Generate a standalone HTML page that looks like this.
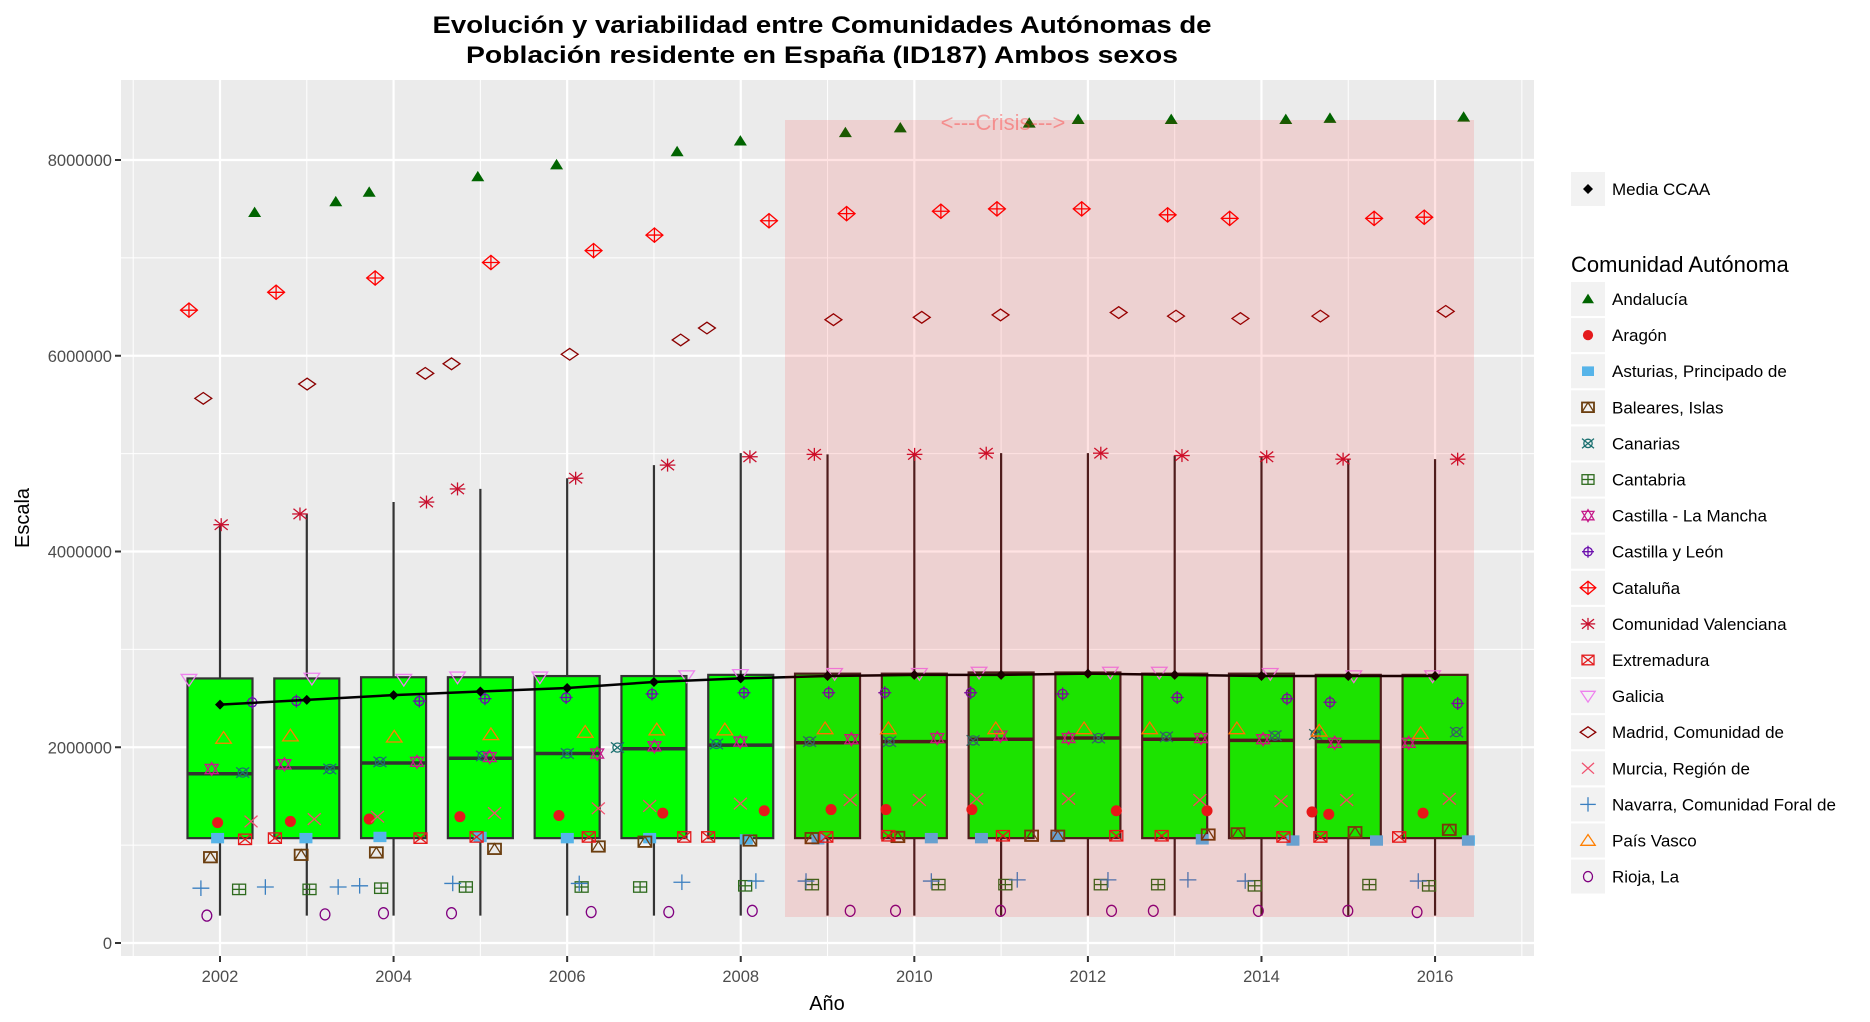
<!DOCTYPE html>
<html><head><meta charset="utf-8"><style>
html,body{margin:0;padding:0;background:#fff;}
svg{display:block;font-family:"Liberation Sans",Arial,sans-serif;}
</style></head><body>
<svg id="s" width="1870" height="1022" viewBox="0 0 1870 1022" xmlns="http://www.w3.org/2000/svg">
<rect x="0" y="0" width="1870" height="1022" fill="#fff"/>
<text x="822" y="33" font-size="24" font-weight="bold" text-anchor="middle" textLength="779" lengthAdjust="spacingAndGlyphs">Evolución y variabilidad entre Comunidades Autónomas de</text>
<text x="822" y="63" font-size="24" font-weight="bold" text-anchor="middle" textLength="712" lengthAdjust="spacingAndGlyphs">Población residente en España (ID187) Ambos sexos</text>
<rect x="121" y="80" width="1413" height="876" fill="#ebebeb"/>
<g id="grid"></g>
<g id="boxes"></g>
<g id="pts"></g>
<g id="mean"></g>
<rect x="785" y="120" width="689" height="797" fill="rgba(255,0,0,0.11)"/>
<text x="1003" y="130" font-size="22" fill="rgba(255,40,40,0.4)" text-anchor="middle">&lt;---Crisis---&gt;</text>
<g id="axes" font-size="16.5" fill="#4d4d4d"></g>
<text x="827" y="1010" font-size="20" text-anchor="middle">Año</text>
<text transform="translate(29,518) rotate(-90)" font-size="20" text-anchor="middle">Escala</text>
<g id="leg"></g>
</svg>
<script>
const NS="http://www.w3.org/2000/svg";
function el(p,t,a,txt){const e=document.createElementNS(NS,t);for(const k in a)e.setAttribute(k,a[k]);if(txt!==undefined)e.textContent=txt;document.getElementById(p).appendChild(e);return e;}
const X=s=>220+(s-184)*1.1935, Y=s=>160+(s-135)*1.1918;
const xc=i=>220+86.79*i, yv=m=>943-m*97.875;
for(let m=1;m<=9;m+=2){const y=yv(m);if(y>80)el('grid','line',{x1:121,x2:1534,y1:y,y2:y,stroke:'#fff','stroke-width':1});}
for(let m=0;m<=8;m+=2){const y=yv(m);el('grid','line',{x1:121,x2:1534,y1:y,y2:y,stroke:'#fff','stroke-width':2.2});}
for(let yr=2001;yr<=2017;yr+=2){const x=220+(yr-2002)*86.79;el('grid','line',{x1:x,x2:x,y1:80,y2:956,stroke:'#fff','stroke-width':1});}
for(let yr=2002;yr<=2016;yr+=2){const x=220+(yr-2002)*86.79;el('grid','line',{x1:x,x2:x,y1:80,y2:956,stroke:'#fff','stroke-width':2.2});
 el('axes','line',{x1:x,x2:x,y1:956,y2:962,stroke:'#333','stroke-width':2});el('axes','text',{x:x,y:982,'text-anchor':'middle'},String(yr));}
for(let m=0;m<=8;m+=2){const y=yv(m);el('axes','line',{x1:115,x2:121,y1:y,y2:y,stroke:'#333','stroke-width':2});el('axes','text',{x:112,y:y+6,'text-anchor':'end'},m==0?'0':m+'000000');}
const wt=[441,432,422,411,402,391,381,382,382,381,381,383,384,386,386];
const med=[650,645,641,637,633,629,626,624,623,621,620,621,622,623,624];
const mean=[592,588,584,581,578,573,570,568,567,567,566,567,568,568,568];
const q3=[570,570,569,569,568,568,567,566,566,565,565,566,566,567,567];
for(let i=0;i<15;i++){const x=xc(i),cr=i>=7,st=cr?'#3a2020':'#333';
 el('boxes','line',{x1:x,x2:x,y1:Y(wt[i]),y2:Y(769),stroke:st,'stroke-width':2.2});
 el('boxes','rect',{x:x-32.5,y:Y(q3[i]),width:65,height:Y(704)-Y(q3[i]),fill:'#00ff00',stroke:st,'stroke-width':2.2});
 el('boxes','line',{x1:x-32.5,x2:x+32.5,y1:Y(med[i]),y2:Y(med[i]),stroke:st,'stroke-width':3.5});}
let d='';for(let i=0;i<15;i++){d+=(i?'L':'M')+xc(i)+','+Y(mean[i]);}
el('mean','path',{d:d,fill:'none',stroke:'#000','stroke-width':2.5});
for(let i=0;i<15;i++)el('mean','path',{d:`M${xc(i)-5},${Y(mean[i])}L${xc(i)},${Y(mean[i])-5}L${xc(i)+5},${Y(mean[i])}L${xc(i)},${Y(mean[i])+5}Z`,fill:'#000'});
function mk(g,t,x,y,c,r){r=r||6.5;const sw=1.3;
 const L=(a,b,c2,d2)=>el(g,'line',{x1:a,y1:b,x2:c2,y2:d2,stroke:c,'stroke-width':sw});
 switch(t){
 case 'tri':el(g,'path',{d:`M${x-r},${y+r*0.7}L${x+r},${y+r*0.7}L${x},${y-r*0.9}Z`,fill:c});break;
 case 'dot':el(g,'circle',{cx:x,cy:y,r:r*0.85,fill:c});break;
 case 'sq':el(g,'rect',{x:x-r,y:y-r*0.8,width:2*r,height:1.6*r,fill:c});break;
 case 'sqtri':el(g,'rect',{x:x-r,y:y-r*0.8,width:2*r,height:1.6*r,fill:'none',stroke:c,'stroke-width':sw+0.5});el(g,'path',{d:`M${x-r},${y+r*0.8}L${x},${y-r*0.8}L${x+r},${y+r*0.8}`,fill:'none',stroke:c,'stroke-width':sw});break;
 case 'cx':el(g,'circle',{cx:x,cy:y,r:r*0.7,fill:'none',stroke:c,'stroke-width':sw});L(x-r,y-r*0.8,x+r,y+r*0.8);L(x-r,y+r*0.8,x+r,y-r*0.8);break;
 case 'sqp':el(g,'rect',{x:x-r,y:y-r*0.8,width:2*r,height:1.6*r,fill:'none',stroke:c,'stroke-width':sw});L(x-r,y,x+r,y);L(x,y-r*0.8,x,y+r*0.8);break;
 case 'star':el(g,'path',{d:`M${x-r},${y-r*0.7}L${x+r},${y-r*0.7}L${x},${y+r}ZM${x-r},${y+r*0.7}L${x+r},${y+r*0.7}L${x},${y-r}Z`,fill:'none',stroke:c,'stroke-width':sw});break;
 case 'cp':el(g,'circle',{cx:x,cy:y,r:r*0.7,fill:'none',stroke:c,'stroke-width':sw});L(x-r,y,x+r,y);L(x,y-r,x,y+r);break;
 case 'dp':el(g,'path',{d:`M${x-r*1.3},${y}L${x},${y-r*1.1}L${x+r*1.3},${y}L${x},${y+r*1.1}Z`,fill:'none',stroke:c,'stroke-width':sw});L(x-r*1.3,y,x+r*1.3,y);L(x,y-r*1.1,x,y+r*1.1);break;
 case 'ast':L(x-r*1.2,y,x+r*1.2,y);L(x,y-r,x,y+r);L(x-r,y-r*0.8,x+r,y+r*0.8);L(x-r,y+r*0.8,x+r,y-r*0.8);break;
 case 'sqx':el(g,'rect',{x:x-r,y:y-r*0.8,width:2*r,height:1.6*r,fill:'none',stroke:c,'stroke-width':sw});L(x-r,y-r*0.8,x+r,y+r*0.8);L(x-r,y+r*0.8,x+r,y-r*0.8);break;
 case 'dtri':el(g,'path',{d:`M${x-r*1.2},${y-r*0.8}L${x+r*1.2},${y-r*0.8}L${x},${y+r}Z`,fill:'none',stroke:c,'stroke-width':sw});break;
 case 'dia':el(g,'path',{d:`M${x-r*1.3},${y}L${x},${y-r*0.9}L${x+r*1.3},${y}L${x},${y+r*0.9}Z`,fill:'none',stroke:c,'stroke-width':sw});break;
 case 'x':L(x-r,y-r*0.9,x+r,y+r*0.9);L(x-r,y+r*0.9,x+r,y-r*0.9);break;
 case 'plus':L(x-r*1.3,y,x+r*1.3,y);L(x,y-r*1.2,x,y+r*1.2);break;
 case 'utri':el(g,'path',{d:`M${x-r*1.2},${y+r*0.8}L${x+r*1.2},${y+r*0.8}L${x},${y-r}Z`,fill:'none',stroke:c,'stroke-width':sw});break;
 case 'circ':el(g,'ellipse',{cx:x,cy:y,rx:r*0.75,ry:r*0.85,fill:'none',stroke:c,'stroke-width':sw});break;
 }}
const S=[
['Andalucía','tri','#006400',[[213,179],[281,170],[309,162],[400,149],[466,139],[567,128],[620,119],[708,112],[754,108],[862,104],[903,101],[981,101],[1077,101],[1114,100],[1226,99]]],
['Aragón','dot','#e41a1c',[[182,691],[243,690],[309,688],[385,686],[468,685],[555,683],[640,681],[696,680],[742,680],[814,680],[935,681],[1011,681],[1099,682],[1113,684],[1192,683]]],
['Asturias, Principado de','sq','#56b4e9',[[182,704],[256,704],[318,703],[402,703],[475,704],[544,704],[625,705],[685,705],[780,704],[822,704],[885,703],[1007,705],[1083,706],[1153,706],[1230,706]]],
['Baleares, Islas','sqtri','#6b3e0f',[[176,720],[252,718],[315,716],[414,713],[501,711],[540,707],[628,706],[680,704],[752,703],[864,702],[886,702],[1012,701],[1037,700],[1135,699],[1214,697]]],
['Canarias','cx','#1b7070',[[203,649],[276,646],[318,640],[404,635],[475,633],[517,628],[600,625],[678,623],[745,623],[815,622],[920,620],[977,619],[1068,618],[1102,617],[1220,615]]],
['Cantabria','sqp','#2e6b1e',[[200,747],[259,747],[319,746],[390,745],[487,745],[536,745],[624,744],[680,743],[786,743],[842,743],[922,743],[970,743],[1051,744],[1147,743],[1197,744]]],
['Castilla - La Mancha','star','#c51b8a',[[177,646],[238,642],[349,640],[410,636],[500,633],[548,627],[620,623],[713,621],[785,620],[838,618],[895,620],[1006,620],[1058,621],[1118,624],[1180,624]]],
['Castilla y León','cp','#6a0dad',[[211,590],[248,589],[351,589],[406,587],[474,586],[546,583],[623,582],[694,582],[741,582],[813,582],[890,583],[986,586],[1078,587],[1114,590],[1221,591]]],
['Cataluña','dp','#ff0000',[[158,261],[231,246],[314,234],[411,221],[497,211],[548,198],[644,186],[709,180],[788,178],[835,176],[906,176],[978,181],[1030,184],[1151,184],[1193,183]]],
['Comunidad Valenciana','ast','#c8102e',[[185,441],[251,432],[357,422],[383,411],[482,402],[559,391],[628,384],[682,382],[766,382],[826,381],[922,381],[990,383],[1061,384],[1125,386],[1221,386]]],
['Extremadura','sqx','#e41a1c',[[205,705],[230,704],[352,704],[399,703],[493,703],[573,703],[593,703],[692,703],[744,702],[840,702],[935,702],[973,702],[1075,703],[1106,703],[1172,703]]],
['Galicia','dtri','#ee82ee',[[158,571],[261,570],[338,571],[383,569],[452,569],[575,568],[620,567],[699,566],[770,566],[820,565],[930,565],[971,565],[1064,566],[1134,568],[1200,568]]],
['Madrid, Comunidad de','dia','#8b0000',[[170,335],[257,323],[356,314],[378,306],[477,298],[570,286],[592,276],[698,269],[772,267],[838,265],[937,263],[985,266],[1039,268],[1106,266],[1211,262]]],
['Murcia, Región de','x','#f0506e',[[210,690],[263,688],[316,686],[414,683],[501,679],[544,677],[620,675],[712,672],[770,672],[818,671],[895,671],[1005,672],[1073,673],[1128,672],[1214,671]]],
['Navarra, Comunidad Foral de','plus','#3a7fc0',[[168,746],[222,745],[283,745],[301,744],[379,742],[485,742],[571,741],[633,740],[675,740],[780,740],[852,739],[928,739],[995,739],[1043,740],[1188,740]]],
['País Vasco','utri','#ff7f00',[[187,620],[243,618],[330,619],[411,617],[490,615],[550,613],[607,613],[691,612],[744,612],[834,612],[908,612],[963,612],[1036,612],[1105,614],[1190,616]]],
['Rioja, La','circ','#800080',[[173,769],[272,768],[321,767],[378,767],[495,766],[560,766],[630,765],[712,765],[750,765],[838,765],[931,765],[966,765],[1054,765],[1129,765],[1187,766]]]
];
S.forEach(s=>s[3].forEach(p=>mk('pts',s[1],X(p[0]),Y(p[1]),s[2])));
el('leg','rect',{x:1571,y:172,width:34,height:34,fill:'#f2f2f2'});
el('leg','path',{d:'M1583,189L1588,184L1593,189L1588,194Z',fill:'#000'});
el('leg','text',{x:1612,y:195,'font-size':17},'Media CCAA');
el('leg','text',{x:1571,y:272,'font-size':22},'Comunidad Autónoma');
S.forEach((s,i)=>{const cy=299+36.1*i;el('leg','rect',{x:1571,y:cy-17,width:34,height:34,fill:'#f2f2f2'});
 mk('leg',s[1],1588,cy,s[2],6);el('leg','text',{x:1612,y:cy+6,'font-size':17},s[0]);});
</script>
</body></html>
